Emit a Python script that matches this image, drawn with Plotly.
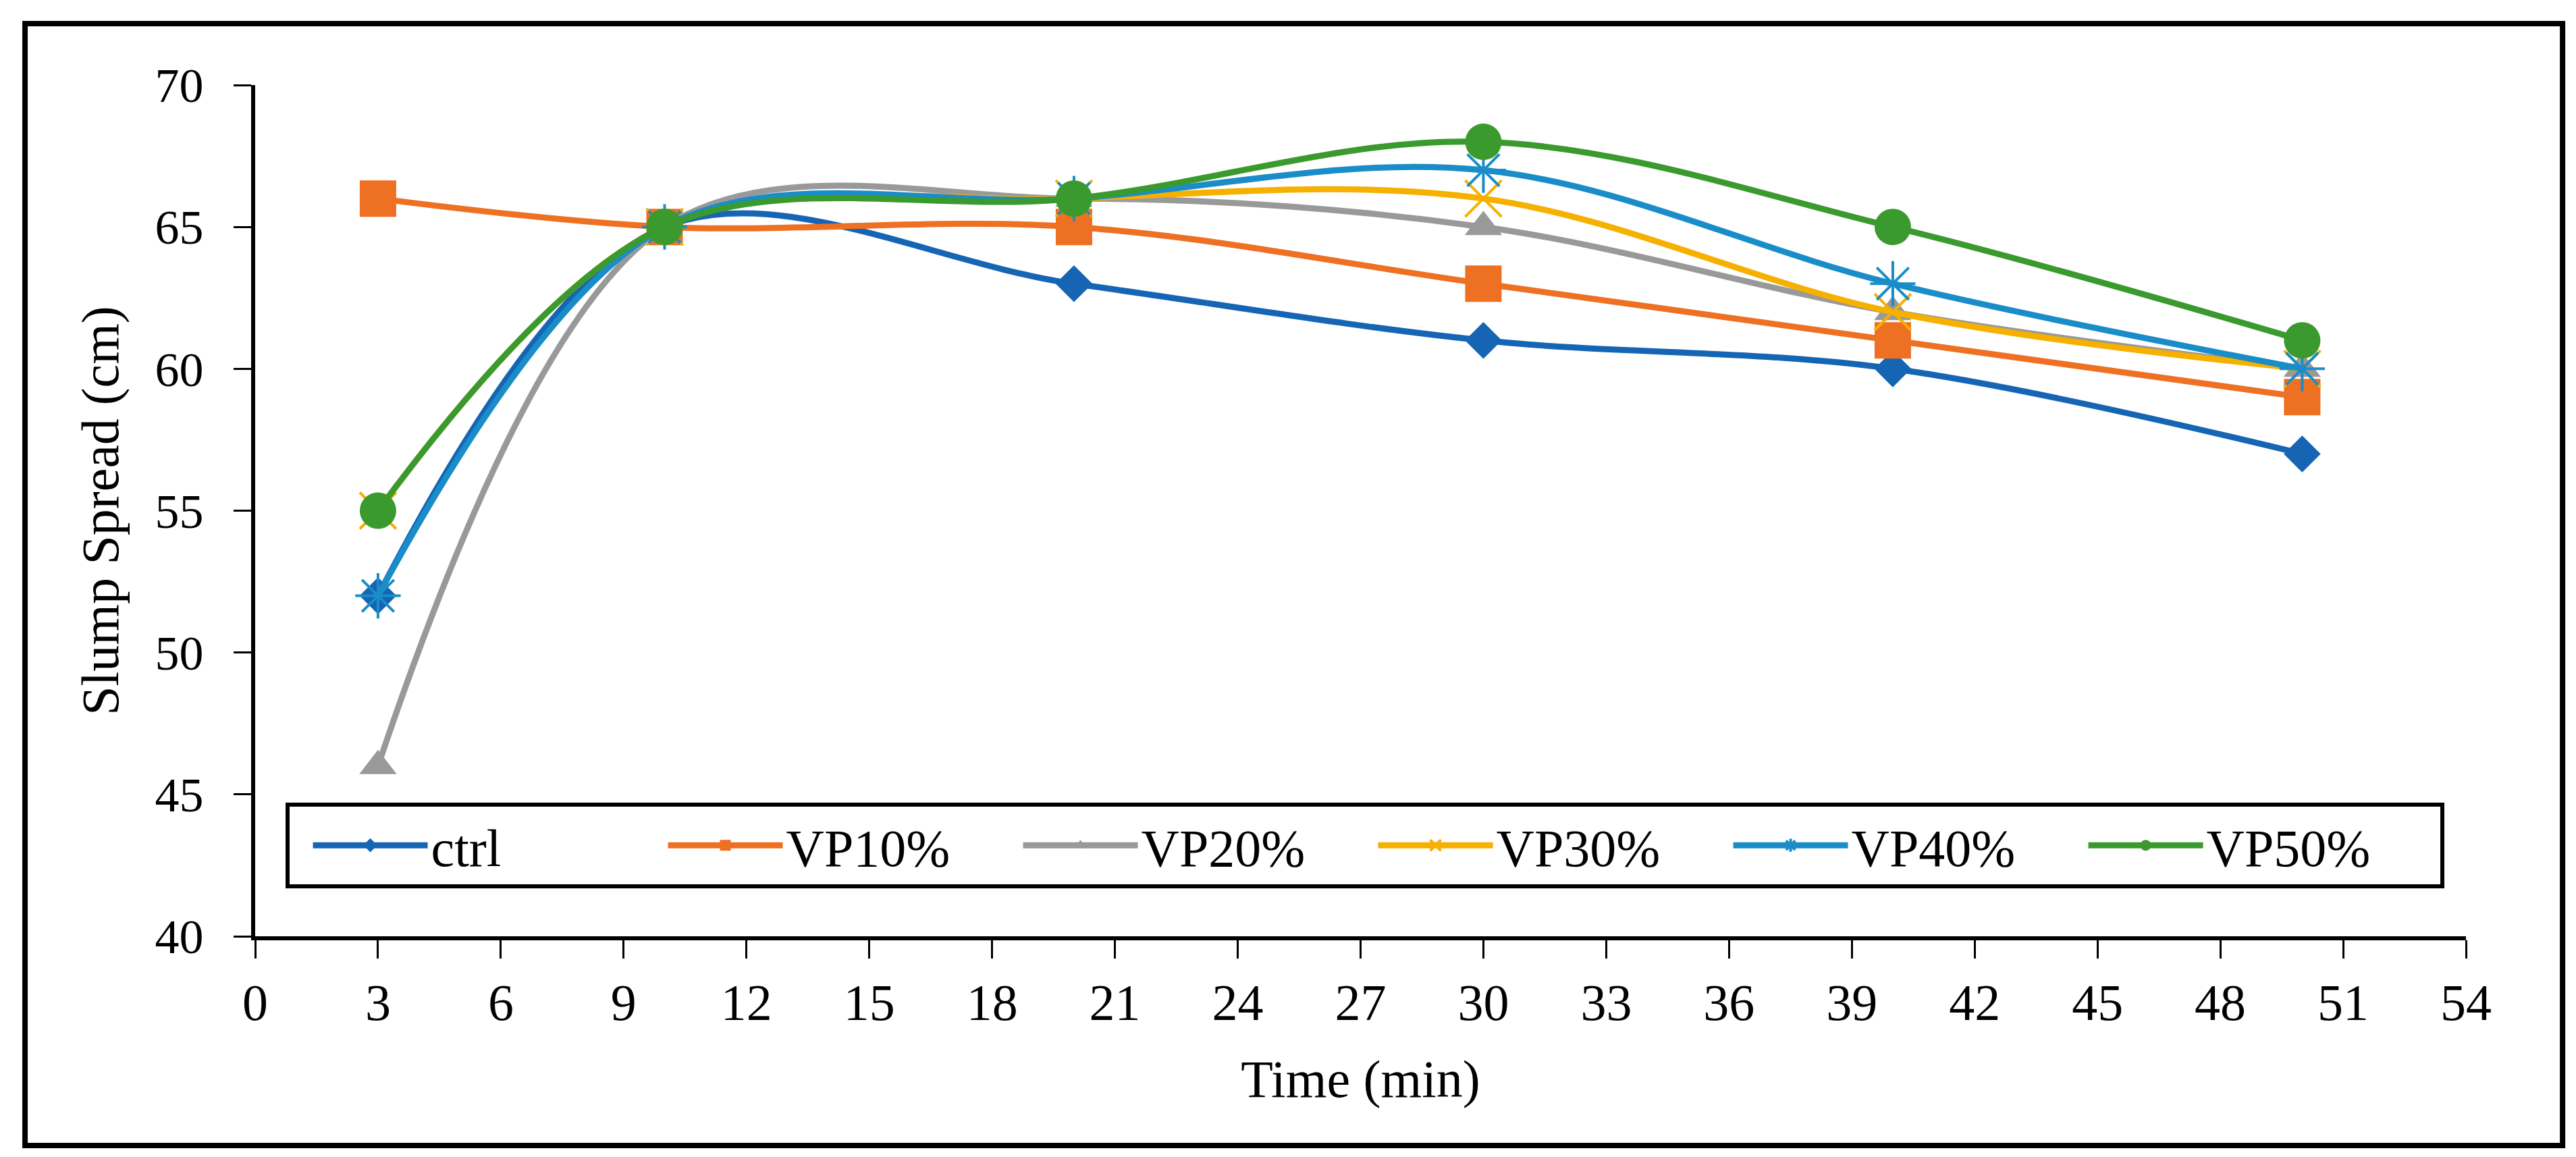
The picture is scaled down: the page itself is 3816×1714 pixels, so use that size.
import plotly.graph_objects as go

time_min = [3, 10, 20, 30, 40, 50]
ctrl = [52, 65, 63, 61, 60, 57]
vp10 = [66, 65, 65, 63, 61, 59]
vp20 = [46, 65, 66, 65, 62, 60]
vp30 = [55, 65, 66, 66, 62, 60]
vp40 = [52, 65, 66, 67, 63, 60]
vp50 = [55, 65, 66, 68, 65, 61]

series_names = ["ctrl", "VP10%", "VP20%", "VP30%", "VP40%", "VP50%"]
series_values = [ctrl, vp10, vp20, vp30, vp40, vp50]
colors = ["#1565B4", "#EE7022", "#999999", "#F5B000", "#1A8DC8", "#3A9A2E"]
symbols = ["diamond", "square", "triangle-up", "x-thin-open", "asterisk-open", "circle"]
sizes = [42, 54, 48, 54, 56, 54]

FONT = "Liberation Serif"

fig = go.Figure()
for name, vals, col, sym, sz in zip(series_names, series_values, colors, symbols, sizes):
    open_sym = sym.endswith("open")
    fig.add_trace(go.Scatter(
        x=time_min, y=vals, name=name, mode="lines+markers",
        line=dict(color=col, width=9, shape="spline", smoothing=1.0),
        marker=dict(symbol=sym, size=sz, color=col,
                    line=dict(color=col, width=4 if open_sym else 0)),
    ))

fig.update_layout(
    width=3816, height=1714,
    margin=dict(l=370, r=171, t=118, b=335),
    paper_bgcolor="white", plot_bgcolor="white",
    font=dict(family=FONT, size=76, color="black"),
    showlegend=True,
    legend=dict(
        orientation="h", x=0.502, xanchor="center", y=0.157, yanchor="top",
        bordercolor="black", borderwidth=6, bgcolor="white",
        font=dict(family=FONT, size=78, color="black"),
        title=dict(text="\u00a0", side="left",
                   font=dict(family=FONT, size=78)),
        itemwidth=170,
        entrywidth=341, entrywidthmode="pixels",
        itemsizing="trace",
    ),
    xaxis=dict(
        range=[0, 54], tick0=0, dtick=3, showgrid=False, zeroline=False,
        showline=True, linecolor="black", linewidth=6,
        ticks="outside", ticklen=27, tickwidth=3, tickcolor="black",
        tickfont=dict(family=FONT, size=76), ticklabelstandoff=0,
        title=dict(text="Time (min)", font=dict(family=FONT, size=78), standoff=46),
    ),
    yaxis=dict(
        range=[40, 70], tick0=40, dtick=5, showgrid=False, zeroline=False,
        showline=True, linecolor="black", linewidth=6,
        ticks="outside", ticklen=26, tickwidth=3, tickcolor="black",
        tickfont=dict(family=FONT, size=72), ticklabelstandoff=30,
        title=dict(text="Slump Spread (cm)", font=dict(family=FONT, size=78), standoff=30),
    ),
)

fig.add_shape(type="rect", xref="paper", yref="paper",
              x0=-0.1041, x1=1.0437, y0=-0.2458, y1=1.0722,
              line=dict(color="black", width=8), fillcolor="rgba(0,0,0,0)", layer="below")

fig.write_html("out.html")
